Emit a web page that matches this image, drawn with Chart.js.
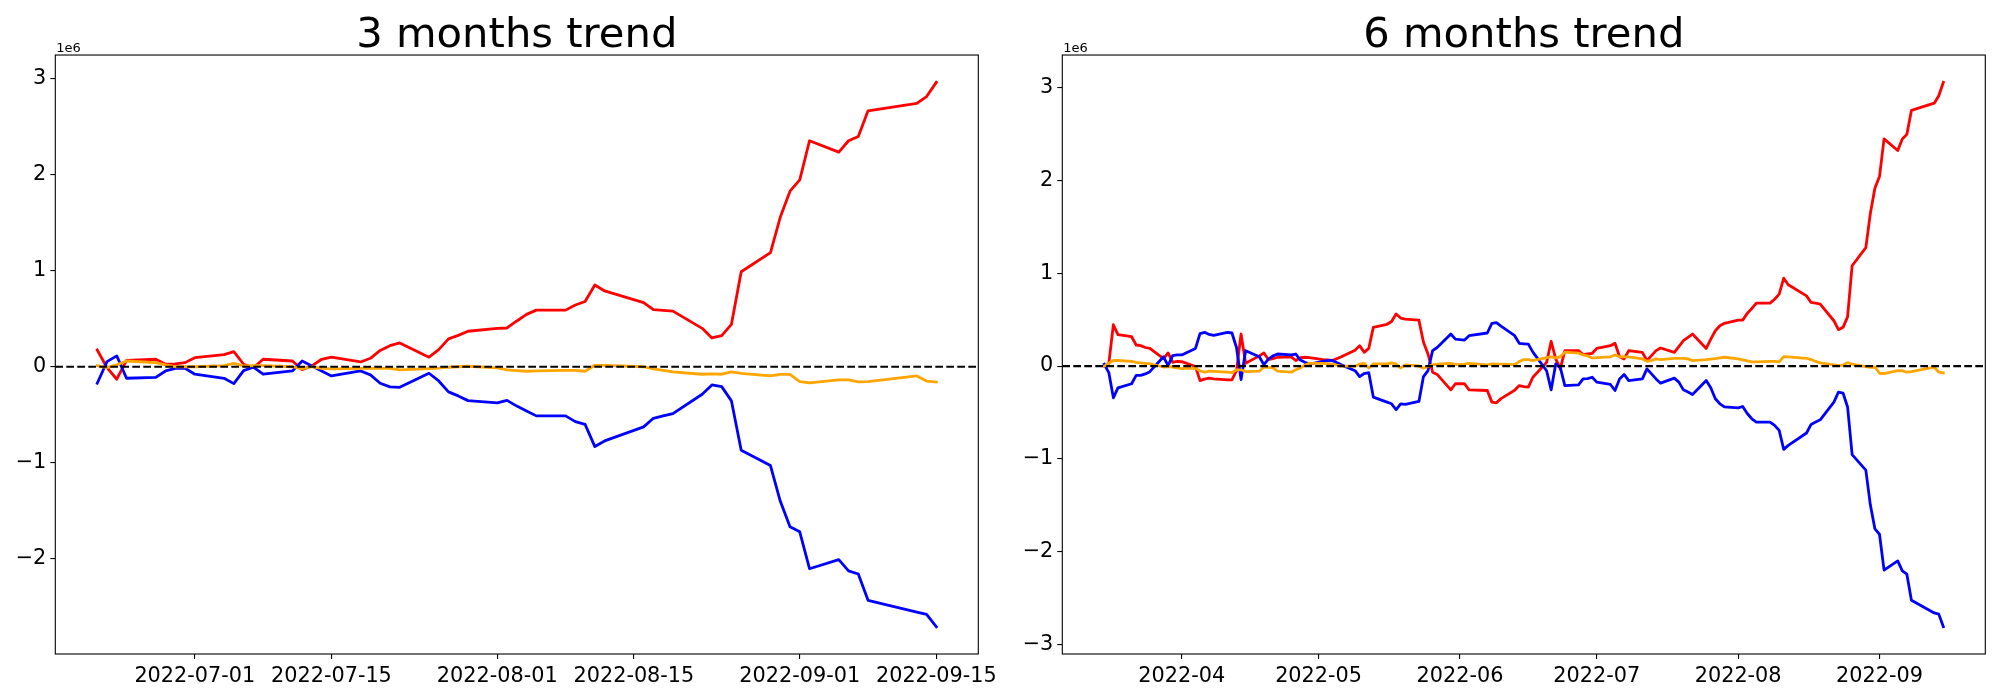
<!DOCTYPE html>
<html>
<head>
<meta charset="utf-8">
<script src="https://cdn.jsdelivr.net/npm/chart.js@4.4.0/dist/chart.umd.min.js"></script>
<style>
  html, body { margin: 0; padding: 0; background: #fff; }
  #wrap { position: relative; width: 2000px; height: 700px; }
  #wrap canvas { position: absolute; top: 0; }
</style>
</head>
<body>
<div id="wrap">
  <canvas id="shortChart" width="1000" height="700" style="left:0"></canvas>
  <canvas id="longChart" width="1000" height="700" style="left:1000px"></canvas>
</div>
<script>
// 3 months window, cumulative values (x 1e6)
const shortDates = [
  '2022-06-21','2022-06-22','2022-06-23','2022-06-24','2022-06-27','2022-06-28','2022-06-29','2022-06-30',
  '2022-07-01','2022-07-04','2022-07-05','2022-07-06','2022-07-07','2022-07-08','2022-07-11','2022-07-12','2022-07-13','2022-07-14','2022-07-15',
  '2022-07-18','2022-07-19','2022-07-20','2022-07-21','2022-07-22','2022-07-25','2022-07-26','2022-07-27','2022-07-28','2022-07-29',
  '2022-08-01','2022-08-02','2022-08-03','2022-08-04','2022-08-05','2022-08-08','2022-08-09','2022-08-10','2022-08-11','2022-08-12',
  '2022-08-16','2022-08-17','2022-08-18','2022-08-19','2022-08-22','2022-08-23','2022-08-24','2022-08-25','2022-08-26','2022-08-29','2022-08-30','2022-08-31',
  '2022-09-01','2022-09-02','2022-09-05','2022-09-06','2022-09-07','2022-09-08','2022-09-13','2022-09-14','2022-09-15'
];
const shortRed = [
  0.175, -0.01, -0.13, 0.067, 0.078, 0.026, 0.03, 0.043,
  0.095, 0.126, 0.158, 0.026, -0.01, 0.078, 0.06, -0.03, 0.01, 0.078, 0.10,
  0.05, 0.088, 0.17, 0.22, 0.248, 0.10, 0.178, 0.29, 0.327, 0.37,
  0.40, 0.404, 0.477, 0.546, 0.59, 0.59, 0.644, 0.68, 0.852, 0.79,
  0.668, 0.595, 0.588, 0.58, 0.40, 0.30, 0.325, 0.442, 0.99, 1.19, 1.557, 1.83,
  1.947, 2.355, 2.237, 2.355, 2.40, 2.667, 2.745, 2.816, 2.965
];
const shortBlue = [
  -0.172, 0.053, 0.113, -0.12, -0.11, -0.044, -0.016, -0.016,
  -0.078, -0.12, -0.176, -0.04, -0.005, -0.078, -0.044, 0.06, 0.008, -0.044, -0.096,
  -0.044, -0.085, -0.172, -0.21, -0.214, -0.068, -0.148, -0.262, -0.304, -0.353,
  -0.377, -0.35, -0.41, -0.46, -0.512, -0.512, -0.572, -0.60, -0.832, -0.773,
  -0.627, -0.537, -0.512, -0.488, -0.287, -0.19, -0.207, -0.356, -0.87, -1.03, -1.40, -1.667,
  -1.72, -2.105, -2.01, -2.127, -2.16, -2.434, -2.557, -2.58, -2.71
];
const shortOrange = [
  0.012, -0.01, 0.02, 0.06, 0.043, 0.02, 0.0, 0.0,
  0.0, 0.012, 0.036, 0.008, 0.012, 0.012, 0.0, -0.023, 0.0, -0.016, -0.023,
  -0.016, -0.016, -0.016, -0.016, -0.033, -0.02, -0.015, -0.005, 0.0, 0.005,
  -0.012, -0.033, -0.04, -0.047, -0.044, -0.037, -0.037, -0.047, 0.015, 0.015,
  0.0, -0.023, -0.037, -0.054, -0.078, -0.075, -0.078, -0.054, -0.07, -0.096, -0.079, -0.079,
  -0.154, -0.167, -0.136, -0.136, -0.158, -0.154, -0.096, -0.149, -0.158
];
const shortTicks = ['2022-07-01', '2022-07-15', '2022-08-01', '2022-08-15', '2022-09-01', '2022-09-15'];

// 6 months window
const longDates = [
  '2022-03-15','2022-03-16','2022-03-17','2022-03-18','2022-03-21','2022-03-22','2022-03-23','2022-03-24','2022-03-25','2022-03-28','2022-03-29','2022-03-30','2022-03-31',
  '2022-04-01','2022-04-04','2022-04-05','2022-04-06','2022-04-07','2022-04-08','2022-04-11','2022-04-12','2022-04-13','2022-04-14','2022-04-15',
  '2022-04-18','2022-04-19','2022-04-20','2022-04-21','2022-04-22','2022-04-25','2022-04-26','2022-04-27','2022-04-28','2022-04-29',
  '2022-05-02','2022-05-03','2022-05-04','2022-05-06','2022-05-09','2022-05-10','2022-05-11','2022-05-12','2022-05-13','2022-05-16','2022-05-17',
  '2022-05-18','2022-05-19','2022-05-20','2022-05-23','2022-05-24','2022-05-25','2022-05-26','2022-05-27','2022-05-30','2022-05-31',
  '2022-06-02','2022-06-03','2022-06-07','2022-06-08','2022-06-09','2022-06-10','2022-06-13','2022-06-14','2022-06-15','2022-06-16','2022-06-17',
  '2022-06-20','2022-06-21','2022-06-22','2022-06-23','2022-06-24','2022-06-27','2022-06-28','2022-06-29','2022-06-30',
  '2022-07-01','2022-07-04','2022-07-05','2022-07-06','2022-07-07','2022-07-08','2022-07-11','2022-07-12','2022-07-13','2022-07-14','2022-07-15',
  '2022-07-18','2022-07-19','2022-07-20','2022-07-21','2022-07-22','2022-07-25','2022-07-26','2022-07-27','2022-07-28','2022-07-29',
  '2022-08-01','2022-08-02','2022-08-03','2022-08-04','2022-08-05','2022-08-08','2022-08-09','2022-08-10','2022-08-11','2022-08-12',
  '2022-08-16','2022-08-17','2022-08-18','2022-08-19','2022-08-22','2022-08-23','2022-08-24','2022-08-25','2022-08-26','2022-08-29','2022-08-30','2022-08-31',
  '2022-09-01','2022-09-02','2022-09-05','2022-09-06','2022-09-07','2022-09-08','2022-09-13','2022-09-14','2022-09-15'
];
const longRed = [
  0.0, 0.03, 0.445, 0.338, 0.316, 0.227, 0.22, 0.20, 0.19, 0.08, 0.141, 0.04, 0.05,
  0.048, -0.005, -0.156, -0.14, -0.13, -0.138, -0.148, -0.148, -0.05, 0.345, 0.03,
  0.11, 0.141, 0.07, 0.08, 0.095, 0.10, 0.06, 0.09, 0.095, 0.09,
  0.07, 0.066, 0.059, 0.10, 0.17, 0.22, 0.148, 0.19, 0.417, 0.45, 0.48,
  0.56, 0.517, 0.506, 0.495, 0.256, 0.13, -0.066, -0.09, -0.256, -0.19,
  -0.19, -0.256, -0.263, -0.388, -0.395, -0.35, -0.26, -0.21, -0.22, -0.227, -0.12,
  0.04, 0.267, 0.077, -0.03, 0.166, 0.166, 0.123, 0.13, 0.138,
  0.19, 0.22, 0.245, 0.1, 0.077, 0.166, 0.148, 0.059, 0.113, 0.166, 0.195,
  0.148, 0.21, 0.274, 0.31, 0.345, 0.19, 0.29, 0.38, 0.434, 0.46,
  0.495, 0.495, 0.567, 0.62, 0.678, 0.678, 0.72, 0.774, 0.946, 0.875,
  0.756, 0.685, 0.678, 0.667, 0.488, 0.392, 0.417, 0.53, 1.08, 1.274, 1.645, 1.916,
  2.04, 2.445, 2.32, 2.445, 2.494, 2.752, 2.83, 2.91, 3.055
];
const longBlue = [
  0.02, -0.07, -0.342, -0.234, -0.19, -0.10, -0.10, -0.084, -0.06, 0.10, 0.005, 0.113, 0.12,
  0.12, 0.19, 0.35, 0.363, 0.34, 0.33, 0.363, 0.356, 0.2, -0.145, 0.166,
  0.10, 0.016, 0.075, 0.11, 0.13, 0.12, 0.13, 0.065, 0.04, 0.02,
  0.05, 0.06, 0.059, 0.013, -0.05, -0.113, -0.08, -0.07, -0.334, -0.388, -0.406,
  -0.47, -0.406, -0.413, -0.38, -0.113, -0.048, 0.166, 0.2, 0.345, 0.29,
  0.28, 0.327, 0.356, 0.46, 0.467, 0.43, 0.327, 0.245, 0.24, 0.236, 0.15,
  -0.05, -0.256, 0.023, -0.013, -0.21, -0.202, -0.138, -0.135, -0.12,
  -0.173, -0.198, -0.263, -0.138, -0.09, -0.156, -0.138, -0.03, -0.084, -0.138, -0.184,
  -0.13, -0.173, -0.256, -0.28, -0.306, -0.156, -0.234, -0.352, -0.406, -0.44,
  -0.45, -0.435, -0.51, -0.567, -0.603, -0.603, -0.638, -0.692, -0.896, -0.853,
  -0.72, -0.628, -0.603, -0.578, -0.388, -0.28, -0.29, -0.44, -0.953, -1.12, -1.496, -1.753,
  -1.81, -2.196, -2.097, -2.205, -2.24, -2.52, -2.657, -2.67, -2.806
];
const longOrange = [
  0.0, 0.03, 0.06, 0.06, 0.05, 0.04, 0.035, 0.03, 0.025, -0.01, -0.005, -0.01, -0.02,
  -0.027, -0.023, -0.05, -0.066, -0.055, -0.058, -0.066, -0.07, -0.04, -0.04, -0.06,
  -0.055, -0.01, -0.013, -0.02, -0.055, -0.066, -0.04, -0.02, 0.01, 0.03,
  0.03, 0.025, 0.02, 0.0, 0.0, 0.02, 0.03, -0.02, 0.023, 0.023, 0.034,
  0.023, -0.02, 0.013, 0.002, -0.023, -0.005, 0.013, 0.02, 0.03, 0.016,
  0.02, 0.03, 0.013, 0.023, 0.02, 0.02, 0.016, 0.048, 0.07, 0.07, 0.06,
  0.09, 0.10, 0.088, 0.10, 0.15, 0.14, 0.12, 0.11, 0.088,
  0.09, 0.1, 0.12, 0.1, 0.1, 0.1, 0.077, 0.052, 0.06, 0.077, 0.07,
  0.084, 0.084, 0.084, 0.077, 0.059, 0.07, 0.075, 0.08, 0.088, 0.095,
  0.077, 0.066, 0.055, 0.045, 0.045, 0.05, 0.05, 0.045, 0.102, 0.10,
  0.084, 0.07, 0.05, 0.034, 0.012, 0.005, 0.01, 0.038, 0.02, -0.005, -0.0125, -0.01,
  -0.077, -0.08, -0.048, -0.05, -0.066, -0.06, -0.0125, -0.066, -0.073
];
const longTicks = ['2022-04', '2022-05', '2022-06', '2022-07', '2022-08', '2022-09'];

const FONT = 'DejaVu Sans';

// date string -> day number (linear x axis, no date adapter)
function toDay(s) {
  const d = s.length > 7 ? +s.slice(8, 10) : 1;
  return Date.UTC(+s.slice(0, 4), +s.slice(5, 7) - 1, d) / 864e5;
}

// frame on all four sides + the "1e6" offset text
const framePlugin = {
  id: 'frame',
  afterDraw(chart) {
    const { ctx, chartArea: a } = chart;
    ctx.save();
    ctx.strokeStyle = '#000';
    ctx.lineWidth = 1.1;
    ctx.strokeRect(a.left, a.top, a.right - a.left, a.bottom - a.top);
    ctx.fillStyle = '#000';
    ctx.font = '13px "' + FONT + '"';
    ctx.textAlign = 'left';
    ctx.textBaseline = 'alphabetic';
    ctx.fillText('1e6', a.left + 1, a.top - 3.5);
    ctx.restore();
  }
};

function makeChart(id, title, dates, red, blue, orange, tickLabels, axisWidth, padRight) {
  const xs = dates.map(toDay);
  const tickDays = tickLabels.map(toDay);
  const x0 = xs[0], x1 = xs[xs.length - 1];
  const xPad = (x1 - x0) * 0.05;
  const all = red.concat(blue, orange);
  const yLo = Math.min(...all), yHi = Math.max(...all);
  const yPad = (yHi - yLo) * 0.05;
  const yMin = yLo - yPad, yMax = yHi + yPad;

  const pts = vals => vals.map((v, i) => ({ x: xs[i], y: v }));

  return new Chart(document.getElementById(id), {
    type: 'line',
    data: {
      datasets: [
        { data: [{ x: x0 - xPad, y: 0 }, { x: x1 + xPad, y: 0 }], borderColor: '#000', borderWidth: 2.1,
          borderDash: [7.7, 3.3], borderCapStyle: 'butt', order: 0 },
        { data: pts(orange), borderColor: 'orange', order: 1 },
        { data: pts(blue), borderColor: 'blue', order: 2 },
        { data: pts(red), borderColor: 'red', order: 3 }
      ]
    },
    options: {
      responsive: false,
      animation: false,
      devicePixelRatio: 1,
      elements: {
        point: { radius: 0 },
        line: { borderWidth: 2.8, tension: 0, fill: false, borderJoinStyle: 'round', borderCapStyle: 'square' }
      },
      layout: { padding: { left: 0, right: padRight, top: 0, bottom: 0 } },
      plugins: {
        legend: { display: false },
        tooltip: { enabled: false },
        title: {
          display: true, text: title, color: '#000', fullSize: false,
          font: { family: FONT, size: 41.7, weight: 'normal', lineHeight: 0.9 },
          padding: { top: 17, bottom: 0.5 }
        }
      },
      scales: {
        x: {
          type: 'linear',
          min: x0 - xPad,
          max: x1 + xPad,
          afterBuildTicks: s => { s.ticks = tickDays.map(v => ({ value: v })); },
          afterFit: s => { s.height = 46; s.paddingLeft = 0; s.paddingRight = 0; },
          ticks: {
            autoSkip: false, maxRotation: 0, padding: 5, color: '#000',
            font: { family: FONT, size: 20.8 },
            callback: (v, i) => tickLabels[i]
          },
          grid: { drawOnChartArea: false, drawTicks: true, tickLength: 5, color: '#000', lineWidth: 1.1 },
          border: { display: false }
        },
        y: {
          type: 'linear',
          min: yMin,
          max: yMax,
          afterBuildTicks: s => {
            const t = [];
            for (let v = Math.ceil(yMin); v <= Math.floor(yMax); v++) t.push({ value: v });
            s.ticks = t;
          },
          afterFit: s => { s.width = axisWidth; s.paddingTop = 0; s.paddingBottom = 0; },
          ticks: {
            padding: 4, color: '#000',
            font: { family: FONT, size: 20.8 },
            callback: v => (v < 0 ? '\u2212' + (-v) : String(v))
          },
          grid: { drawOnChartArea: false, drawTicks: true, tickLength: 5, color: '#000', lineWidth: 1.1 },
          border: { display: false }
        }
      }
    },
    plugins: [framePlugin]
  });
}

makeChart('shortChart', '3 months trend', shortDates, shortRed, shortBlue, shortOrange, shortTicks, 55.3, 21.7);
makeChart('longChart', '6 months trend', longDates, longRed, longBlue, longOrange, longTicks, 62.3, 14.7);
</script>
</body>
</html>
